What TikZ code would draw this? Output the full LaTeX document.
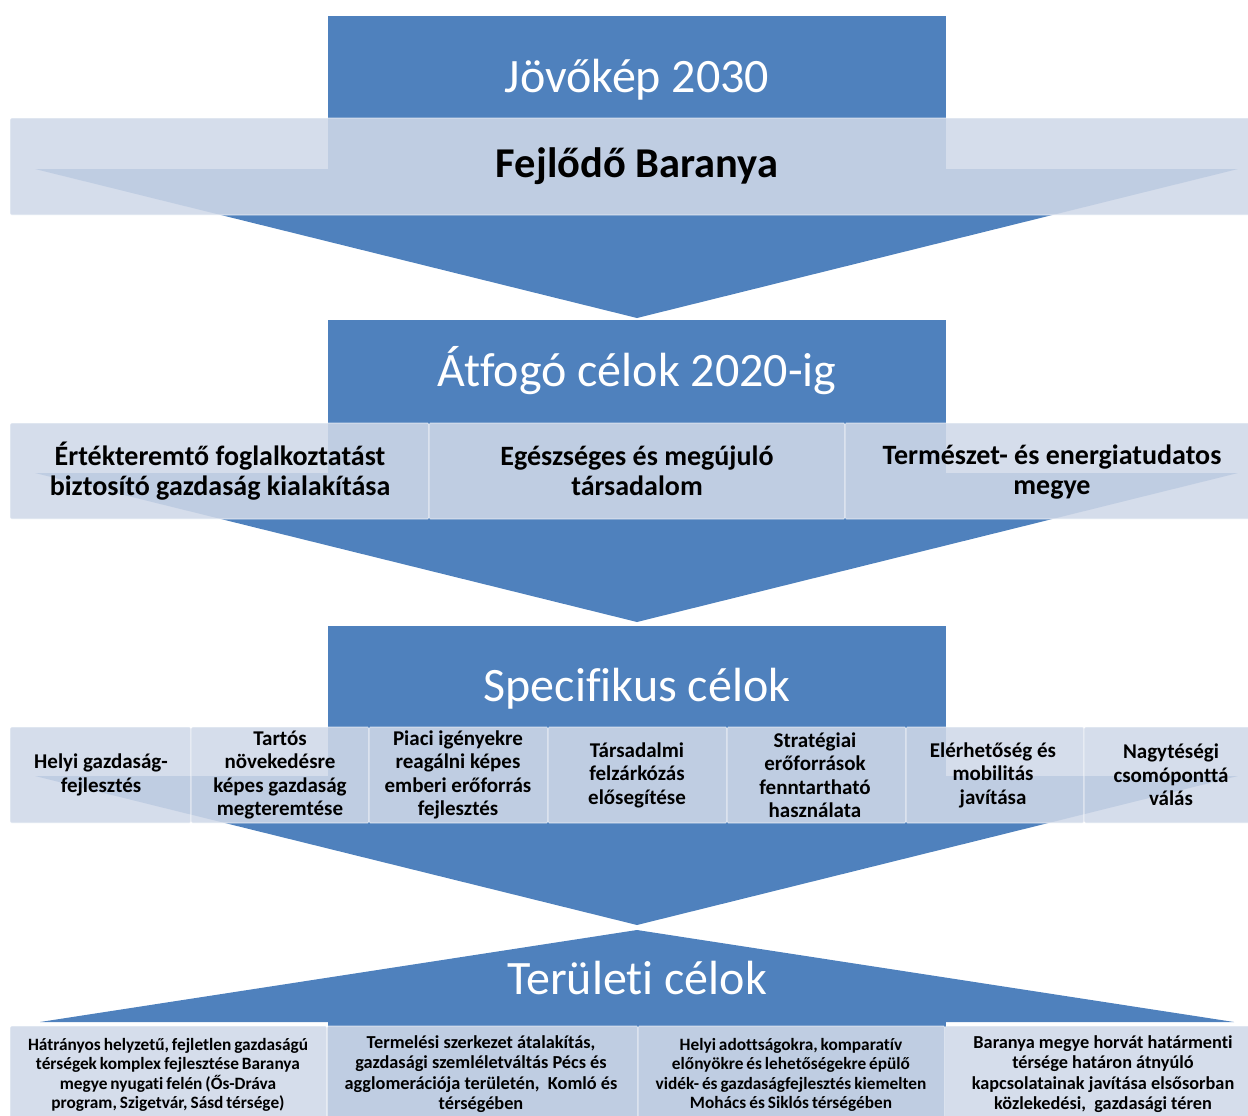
\documentclass[tikz,border=0pt]{standalone}
\usepackage{fontspec}
\setmainfont{Carlito}[Ligatures={NoCommon}]
\definecolor{blu}{HTML}{4F81BD}
\definecolor{bandc}{RGB}{207,216,232}
\newcommand\mytightsp{\spaceskip=0.17em plus 0.05em\relax}
\begin{document}
\begin{tikzpicture}[x=1pt,y=-1pt,
  blueshape/.style={fill=blu, draw=none},
  cell/.style={fill=bandc, fill opacity=0.88, draw=white, draw opacity=0.4, line width=1.3pt, rounded corners=1.5pt},
  title/.style={text=white, inner sep=0pt, font=\fontsize{48}{56}\selectfont},
  bigtxt/.style={text=black, inner sep=0pt, font=\bfseries\fontsize{42.5}{48}\selectfont},
  midtxt/.style={text=black, inner sep=0pt, align=center, font=\bfseries\fontsize{28}{30}\selectfont},
  smalltxt/.style={text=black, inner sep=0pt, align=center, font=\bfseries\fontsize{21}{23.5}\selectfont},
  tinytxt/.style={text=black, inner sep=0pt, align=center, font={\bfseries\fontsize{17.3}{19.3}\selectfont\mytightsp}},
  tinytxtb/.style={text=black, inner sep=0pt, align=center, font={\bfseries\fontsize{18.3}{20.3}\selectfont}}]
\useasboundingbox (0,0) rectangle (1248,1116);
\clip (0,0) rectangle (1248,1116);
% ---------- section 1
\fill[blueshape] (328,16) rectangle (946,170);
\fill[blueshape] (35,169) -- (1238,169) -- (637,318) -- cycle;
\node[title] (t1) at (637,80) {Jövőkép 2030};
\draw[cell] (10,118) rectangle (1262,215);
\node[bigtxt] (b1) at (637,166) {Fejlődő Baranya};
% ---------- section 2
\fill[blueshape] (328,320) rectangle (946,474);
\fill[blueshape] (35,473) -- (1238,473) -- (637,622) -- cycle;
\node[title] (t2) at (637,371) {Átfogó célok 2020-ig};
\draw[cell] (10,423) rectangle (429,519);
\draw[cell] (429,423) rectangle (845,519);
\draw[cell] (845,423) rectangle (1262,519);
\node[midtxt] (c21) at (220,471) {Értékteremtő foglalkoztatást\\biztosító gazdaság kialakítása};
\node[midtxt] (c22) at (637,471) {Egészséges és megújuló\\társadalom};
\node[midtxt] (c23) at (1052,472) {Természet- és energiatudatos\\megye};
% ---------- section 3
\fill[blueshape] (328,626) rectangle (946,777);
\fill[blueshape] (35,776) -- (1238,776) -- (637,925) -- cycle;
\node[title] (t3) at (637,689) {Specifikus célok};
\draw[cell] (10,727) rectangle (191,823);
\draw[cell] (191,727) rectangle (369,823);
\draw[cell] (369,727) rectangle (548,823);
\draw[cell] (548,727) rectangle (727,823);
\draw[cell] (727,727) rectangle (906,823);
\draw[cell] (906,727) rectangle (1084,823);
\draw[cell] (1084,727) rectangle (1262,823);
\node[smalltxt] (c31) at (101,775) {Helyi gazdaság-\\fejlesztés};
\node[smalltxt] (c32) at (280,775) {Tartós\\növekedésre\\képes gazdaság\\megteremtése};
\node[smalltxt] (c33) at (458,775) {Piaci igényekre\\reagálni képes\\emberi erőforrás\\fejlesztés};
\node[smalltxt] (c34) at (637,775) {Társadalmi\\felzárkózás\\elősegítése};
\node[smalltxt] (c35) at (815,775) {Stratégiai\\erőforrások\\fenntartható\\használata};
\node[smalltxt] (c36) at (993,775) {Elérhetőség és\\mobilitás\\javítása};
\node[smalltxt] (c37) at (1171,775) {Nagytéségi\\csomóponttá\\válás};
% ---------- section 4
\fill[blueshape] (40,1022) -- (1234,1022) -- (637,930) -- cycle;
\fill[blueshape] (328,1021) rectangle (946,1130);
\node[title] (t4) at (637,978) {Területi célok};
\draw[cell] (10,1026) rectangle (327,1135);
\draw[cell] (327,1026) rectangle (638,1135);
\draw[cell] (638,1026) rectangle (945,1135);
\draw[cell] (945,1026) rectangle (1262,1135);
\node[tinytxt] (c41) at (168,1075) {Hátrányos helyzetű, fejletlen gazdaságú\\térségek komplex fejlesztése Baranya\\megye nyugati felén (Ős-Dráva\\program, Szigetvár, Sásd térsége)};
\node[tinytxtb] (c42) at (481,1074) {Termelési szerkezet átalakítás,\\gazdasági szemléletváltás Pécs és\\agglomerációja területén,~ Komló és\\térségében};
\node[tinytxt] (c43) at (791,1075) {Helyi adottságokra, komparatív\\előnyökre és lehetőségekre épülő\\vidék- és gazdaságfejlesztés kiemelten\\Mohács és Siklós térségében};
\node[tinytxtb] (c44) at (1103,1074) {Baranya megye horvát határmenti\\térsége határon átnyúló\\kapcsolatainak javítása elsősorban\\közlekedési,~ gazdasági téren};
\end{tikzpicture}
\end{document}
